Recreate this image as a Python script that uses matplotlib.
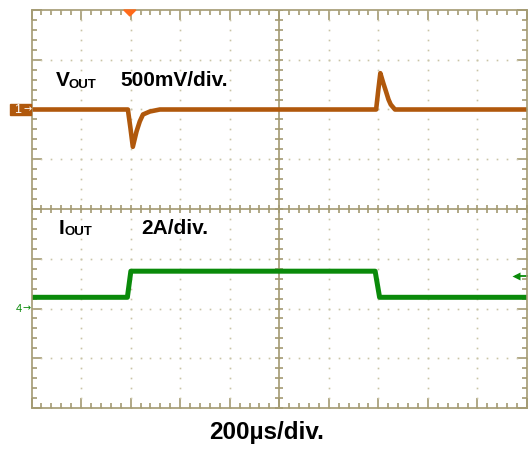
import numpy as np
import matplotlib.pyplot as plt
from matplotlib.patches import Rectangle, Polygon

# Vout (AC deviation, mV), time in µs (0 = screen centre)
vout_t = [-1000, -611, -601, -591, -576, -563, -550, -522, -482,
          391, 400, 408, 420, 431, 441, 450, 467, 1000]
vout_mv = [0, 0, -180, -375, -220, -120, -50, -20, 0,
           0, 200, 365, 265, 180, 100, 50, 0, 0]

# Iout (A), time in µs
iout_t = [-1000, -613, -599, 387, 405, 1000]
iout_a = [0.45, 0.45, 1.5, 1.5, 0.45, 0.45]

# channel settings
vout_scale = 500.0   # mV/div
vout_pos = 2.0       # div
iout_scale = 2.0     # A/div
iout_pos = -2.0      # div
iout_trig = 1.3      # A, trigger level arrow
t_div = 200.0        # µs/div

grid_col = '#a39a72'
dot_col = '#c9c4a6'
brown = '#b0580c'
green = '#0a8a0a'

fig = plt.figure(figsize=(5.29, 4.5), dpi=100)
ax = fig.add_axes([31.5 / 529, 42 / 450, 495.5 / 529, 398 / 450])
ax.set_xlim(-5 * t_div, 5 * t_div)
ax.set_ylim(-4, 4)

# border ticks
ax.set_xticks(np.arange(-5, 6) * t_div)
ax.set_xticks(np.arange(-25, 26) * t_div / 5, minor=True)
ax.set_yticks(np.arange(-4, 5))
ax.set_yticks(np.arange(-20, 21) / 5, minor=True)
ax.tick_params(which='both', direction='in', top=True, right=True,
               labelbottom=False, labelleft=False, color=grid_col, width=1.2)
ax.tick_params(which='major', length=7.2)
ax.tick_params(which='minor', length=3.6)
for s in ax.spines.values():
    s.set_color(grid_col)
    s.set_linewidth(1.2)

# dotted graticule
xs = np.arange(-25, 26) * t_div / 5
ys = np.arange(-20, 21) / 5
for k in range(-4, 5):
    if k == 0:
        continue
    ax.plot(xs, np.full_like(xs, k), ls='none', marker='s', ms=1.2,
            color=dot_col, mec='none')
    ax.plot(np.full_like(ys, k * t_div), ys, ls='none', marker='s', ms=1.2,
            color=dot_col, mec='none')

# centre cross with small ticks
ax.axhline(0, color=grid_col, lw=1.2)
ax.axvline(0, color=grid_col, lw=1.2)
ax.plot(xs, np.zeros_like(xs), ls='none', marker='|', ms=6, mew=1.2, color=grid_col)
ax.plot(np.zeros_like(ys), ys, ls='none', marker='_', ms=6, mew=1.2, color=grid_col)

# traces
vt = np.array(vout_t)
vy = np.array(vout_mv) / vout_scale + vout_pos
ax.plot(vt, vy, color=brown, lw=3.3, solid_joinstyle='round')
it = np.array(iout_t)
iy = np.array(iout_a) / iout_scale + iout_pos
ax.plot(it, iy, color=green, lw=3.6, solid_joinstyle='round')

# labels
bold = dict(fontfamily='Liberation Sans', fontweight='bold', color='black')
ax.text(-902, 2.47, 'V', fontsize=15, **bold)
ax.text(-852, 2.44, 'OUT', fontsize=9.5, **bold)
ax.text(-643, 2.47, '500mV/div.', fontsize=15, **bold)
ax.text(-892, -0.50, 'I', fontsize=15, **bold)
ax.text(-866, -0.53, 'OUT', fontsize=9.5, **bold)
ax.text(-559, -0.50, '2A/div.', fontsize=15, **bold)
fig.text(266.5 / 529, 1 - 432 / 450, '200µs/div.', fontsize=17.5,
         ha='center', va='center', **bold)

# channel 1 marker
fig.patches.append(Rectangle((10 / 529, 1 - 115 / 450), 21 / 529, 11 / 450,
                             transform=fig.transFigure, color=brown))
fig.text(17.5 / 529, 1 - 109.5 / 450, '1', fontsize=9, color='white',
         ha='center', va='center', fontfamily='Liberation Sans')
fig.text(27.5 / 529, 1 - 109.5 / 450, '→', fontsize=7, color='white',
         ha='center', va='center')

# channel 4 marker
fig.text(18.5 / 529, 1 - 309 / 450, '4', fontsize=8, color=green,
         ha='center', va='center', fontfamily='Liberation Sans')
fig.text(27 / 529, 1 - 308.5 / 450, '→', fontsize=7, color=green,
         ha='center', va='center')

# trigger level arrow (right) and trigger position (top)
ty = iout_trig / iout_scale + iout_pos
ax.plot([955, 1000], [ty, ty], color=green, lw=1.3, clip_on=False)
ax.plot([955], [ty], marker='<', ms=6, color=green, mec='none', clip_on=False)
tx = ax.transData.transform((-603, 0))[0] / 529
fig.patches.append(Polygon([(tx - 6 / 529, 1 - 10 / 450), (tx + 6 / 529, 1 - 10 / 450),
                            (tx, 1 - 16 / 450)], closed=True,
                           transform=fig.transFigure, color='#ff6a1a'))

fig.savefig('out.png', dpi=100)
